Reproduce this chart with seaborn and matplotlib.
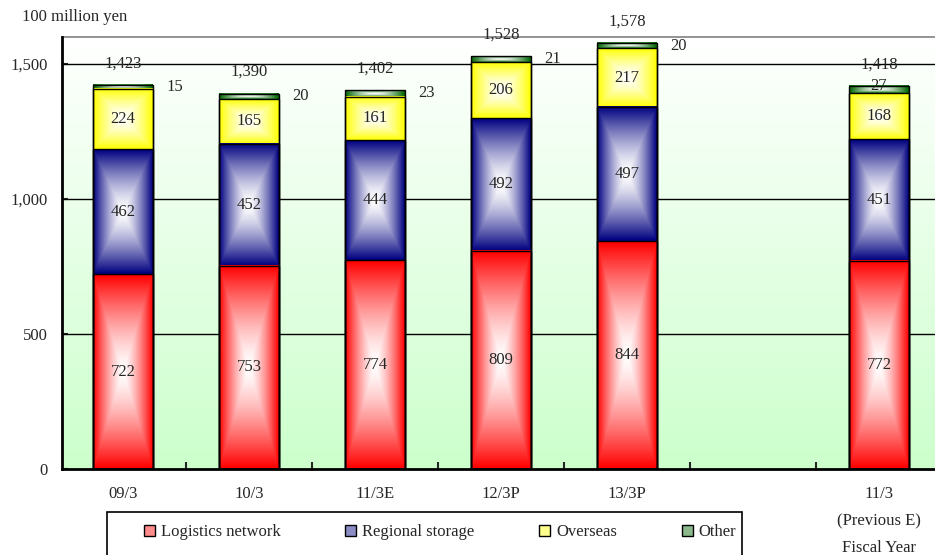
import numpy as np
import matplotlib
matplotlib.use("Agg")
import matplotlib.pyplot as plt
import matplotlib.transforms as mtransforms
from matplotlib.patches import Patch, Rectangle
from matplotlib.colors import to_rgb
import seaborn as sns

# ---------------- data ----------------
categories = ["09/3", "10/3", "11/3E", "12/3P", "13/3P", "11/3\n(Previous E)"]
logistics = [722, 753, 774, 809, 844, 772]
regional = [462, 452, 444, 492, 497, 451]
overseas = [224, 165, 161, 206, 217, 168]
other = [15, 20, 23, 21, 20, 27]
totals = [1423, 1390, 1402, 1528, 1578, 1418]
segment_names = ["Logistics network", "Regional storage", "Overseas", "Other"]
yticks = [0, 500, 1000, 1500]
unit_label = "100 million yen"
axis_title = "Fiscal Year"

colors = ["#ff0000", "#000080", "#ffff00", "#006400"]
FS = 12

# ---------------- style ----------------
sns.set_style("white")
plt.rcParams["font.family"] = ["Liberation Serif", "DejaVu Serif"]
plt.rcParams["font.size"] = FS

fig = plt.figure(figsize=(9.35, 5.55), dpi=100)
ax = fig.add_axes([62 / 935, 1 - 469 / 555, 1 - 62 / 935, (469 - 37) / 555])

order = categories[:5] + [" "] + categories[5:]
series = [logistics, regional, overseas, other]

# cumulative layers
bottoms, tops = [], []
cum = np.zeros(len(categories))
for vals in series:
    bottoms.append(cum.copy())
    cum = cum + np.array(vals, dtype=float)
    tops.append(cum.copy())


def grad_img(color, n=100):
    u = np.linspace(-1, 1, n)
    U, V = np.meshgrid(u, u)
    t = np.maximum(np.abs(U), np.abs(V)) ** 1.4
    base = np.array(to_rgb(color))
    return (1 - t)[..., None] * np.ones(3) + t[..., None] * base


# draw layers from top to bottom (overlay)
segments = []
for k in range(len(series) - 1, -1, -1):
    start = len(ax.patches)
    sns.barplot(x=categories, y=tops[k], order=order, color=colors[k],
                width=0.47, edgecolor="black", linewidth=1.0,
                errorbar=None, ax=ax, zorder=3)
    for p in ax.patches[start:]:
        xc = p.get_x() + p.get_width() / 2
        pos = int(round(xc))
        idx = categories.index(order[pos])
        p.set_facecolor("none")
        segments.append((p.get_x(), p.get_x() + p.get_width(),
                         bottoms[k][idx], tops[k][idx], colors[k]))

for x0, x1, y0, y1, c in segments:
    ax.imshow(grad_img(c), extent=[x0, x1, y0, y1], aspect="auto",
              zorder=2, interpolation="bilinear", origin="lower")

# background gradient
bg = np.linspace(1, 0, 200)[:, None]
c_top = np.array([1.0, 1.0, 1.0])
c_bot = np.array(to_rgb("#ccffcc"))
bgimg = (bg[..., None] * c_top + (1 - bg[..., None]) * c_bot) * np.ones((1, 2, 1))
ax.imshow(bgimg, extent=[0, 1, 0, 1], transform=ax.transAxes, aspect="auto",
          zorder=0, origin="upper")

ax.set_xlim(-0.484, 6.444)
ax.set_ylim(0, 1600)

# gridlines
for v in yticks[1:]:
    ax.axhline(v, color="black", lw=1.0, zorder=1)

# segment value labels
pos_of = {c: order.index(c) for c in categories}
for i, cat in enumerate(categories):
    x = pos_of[cat]
    for k in range(3):
        mid = (bottoms[k][i] + tops[k][i]) / 2
        ax.text(x, mid, f"{series[k][i]:,}", ha="center", va="center",
                fontsize=FS, zorder=5)
    ax.text(x, totals[i] + 80, f"{totals[i]:,}", ha="center", va="center",
            fontsize=FS, zorder=5, clip_on=False)
    if i < 5:
        ax.text(x + 0.41, totals[i] - 10, f"{other[i]}", ha="center",
                va="center", fontsize=FS, zorder=5, clip_on=False)
    else:
        ax.text(x, totals[i], f"{other[i]}", ha="center", va="center",
                fontsize=FS, zorder=5, clip_on=False)

# axes styling
ax.set_xlabel("")
ax.set_ylabel("")
ax.set_yticks(yticks)
ax.set_yticklabels([f"{v:,}" for v in yticks])
ax.tick_params(axis="y", direction="in", length=4, width=1.5, pad=10,
               labelsize=FS, left=True)
ax.tick_params(axis="x", which="major", length=0, pad=12, labelsize=FS)
ax.set_xticks([p + 0.5 for p in range(len(order) - 1)], minor=True)
ax.tick_params(axis="x", which="minor", direction="in", length=5, width=1.5,
               bottom=True)
for lab in ax.get_xticklabels():
    lab.set_linespacing(2.0)
    lab.set_verticalalignment("top")

for s in ["left", "bottom"]:
    ax.spines[s].set_color("black")
    ax.spines[s].set_linewidth(2)
    ax.spines[s].set_zorder(6)
ax.spines["top"].set_color("#808080")
ax.spines["top"].set_linewidth(1.2)
ax.spines["right"].set_visible(False)

fig.text(22 / 935, 1 - 17 / 555, unit_label, ha="left", va="center",
         fontsize=FS)
trans = mtransforms.blended_transform_factory(ax.transData, fig.transFigure)
ax.text(order.index(categories[5]), 1 - 548 / 555, axis_title, ha="center",
        va="center", fontsize=FS, transform=trans, clip_on=False)

# legend
def light(c, f=0.55):
    return tuple(np.array(to_rgb(c)) * (1 - f) + f)

handles = [Patch(facecolor=light(c), edgecolor="black", linewidth=1.0,
                 label=n) for c, n in zip(colors, segment_names)]
fig.legend(handles=handles, loc="center", ncol=4,
           bbox_to_anchor=(440 / 935, 1 - 532 / 555), frameon=False,
           fontsize=FS, handlelength=0.65, handleheight=0.65,
           handletextpad=0.35, columnspacing=3.9, borderpad=0)
fig.patches.append(Rectangle((107 / 935, -0.05), (742 - 107) / 935,
                             (555 - 512) / 555 + 0.05,
                             transform=fig.transFigure, fill=False,
                             edgecolor="black", linewidth=1.2))

fig.savefig("out.png", dpi=100)
